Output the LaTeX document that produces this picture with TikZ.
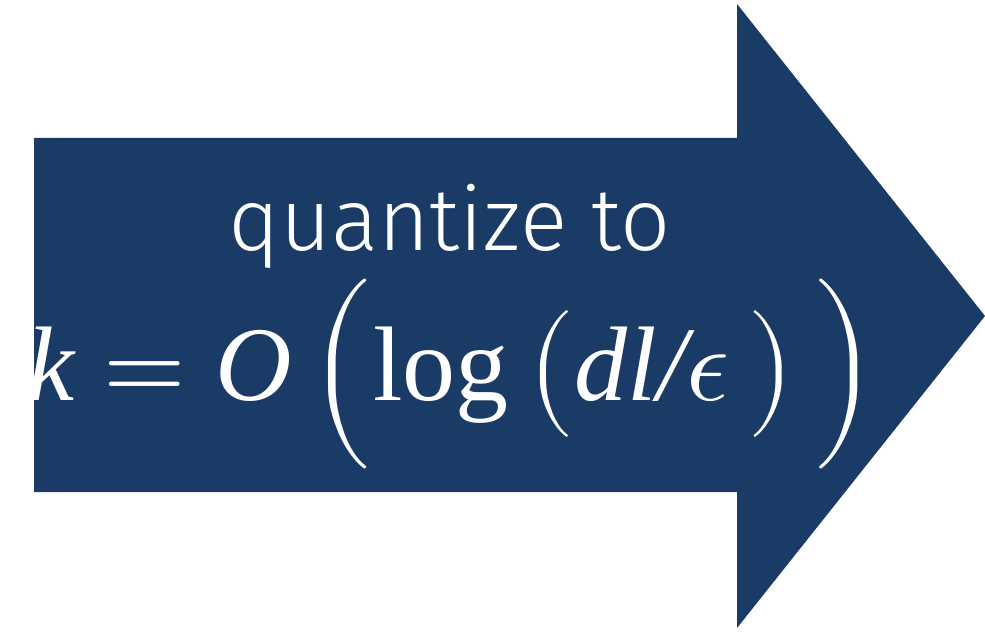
\documentclass[tikz,border=0pt]{standalone}
\usepackage{amsmath}
\usepackage{fontspec}
\usepackage{unicode-math}
\setmathfont{Latin Modern Math}
\setmainfont{Liberation Serif}
\newfontfamily\thinsans{Fira Sans Light}
\definecolor{navy}{RGB}{27,59,103}

\begin{document}
\begin{tikzpicture}[x=1pt,y=1pt]
\useasboundingbox (0,0) rectangle (985,635);
\fill[navy] (34,143)--(34,497)--(737,497)--(737,631)--(985,319)--(737,7)--(737,143)--cycle;
\node[text=white,anchor=base,inner sep=0pt,font=\fontsize{88}{88}\selectfont\thinsans] (label) at (450,384) {quantize to};
\node[text=white,anchor=base,inner sep=0pt,font=\fontsize{106}{106}\selectfont] (formula) at (452,234)
  {$\textit{k} = \textit{O}\,\Big(\!\mathop{\text{log}}\nolimits\big(\textit{dl/}\epsilon\,\big)\,\Big)$};
\end{tikzpicture}
\end{document}
